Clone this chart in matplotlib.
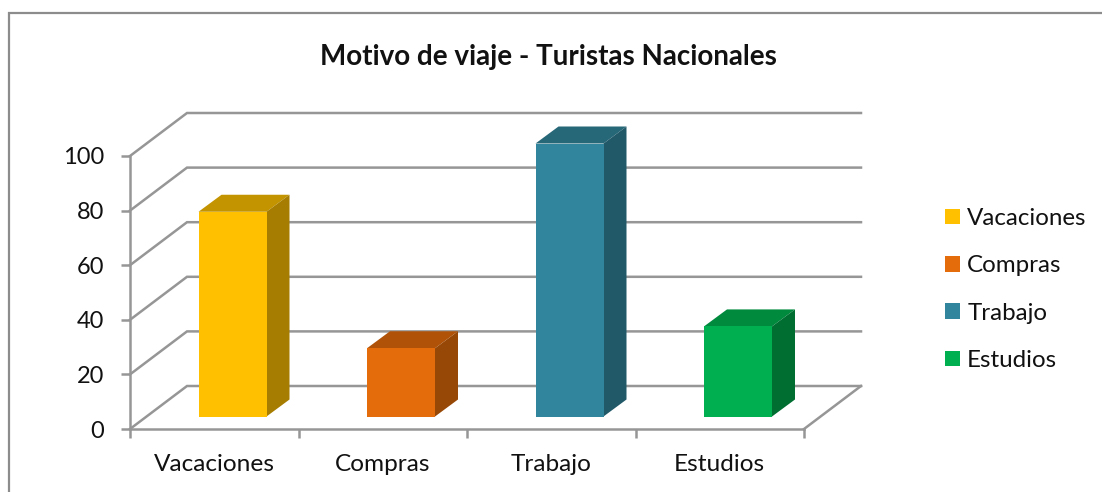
import matplotlib
matplotlib.use('Agg')
import matplotlib.pyplot as plt
from matplotlib.patches import Polygon, Patch, Rectangle

plt.rcParams['font.family'] = ['Lato', 'DejaVu Sans']

categories = ['Vacaciones', 'Compras', 'Trabajo', 'Estudios']
values = [75, 25, 100, 33]
yticks = [0, 20, 40, 60, 80, 100]
front_colors = ['#FFC000', '#E46C0A', '#31859C', '#00B050']
top_colors = ['#C49400', '#B05308', '#266778', '#008A3E']
side_colors = ['#A67D00', '#974706', '#215968', '#006E31']

W, H = 1102, 492
GREY = '#969696'
TEXT = '#111111'

fig = plt.figure(figsize=(W/100, H/100), dpi=100)

# outer frame, only left and top are in the picture
fig.add_artist(plt.Line2D([9/W, 9/W, 1], [0, 1-13/H, 1-13/H], color='#8c8c8c', lw=1.6,
                          solid_joinstyle='miter', transform=fig.transFigure))

# axes = front edge of the floor, in pixels
x0, x1, y0, y100 = 130, 804, 429, 156
ax = fig.add_axes([x0/W, 1-y0/H, (x1-x0)/W, (y0-y100)/H])
ax.set_xlim(0, 4)
ax.set_ylim(0, 100)
ax.patch.set_alpha(0)

# pixels to data units
px = 4/(x1-x0)
py = 100/(y0-y100)
dx, dy = 57*px, 43*py

for s in ['top', 'right']:
    ax.spines[s].set_visible(False)
for s in ['left', 'bottom']:
    ax.spines[s].set_color(GREY)
    ax.spines[s].set_linewidth(1.8)

ax.set_xticks(range(5))
ax.set_xticklabels([])
ax.set_yticks(yticks)
ax.tick_params(axis='both', length=6.5, width=1.8, color=GREY, labelsize=17, labelcolor=TEXT, pad=12)
for i, c in enumerate(categories):
    ax.text(i+0.5, -0.09, c, transform=ax.get_xaxis_transform(), ha='center', va='top', fontsize=17.6, color=TEXT)

# gridlines on side and back wall
for v in yticks:
    ax.plot([0, dx, 4+dx], [v, v+dy, v+dy], color=GREY, lw=1.8, clip_on=False, zorder=1,
            solid_joinstyle='miter')
ax.plot([4, 4+dx], [0, dy], color=GREY, lw=1.8, clip_on=False, zorder=1)

# bars stand about 12px above the front edge
bar_w = 68*px
ddx, ddy = 23*px, 17*py
b = 12.5*py
for i, v in enumerate(values):
    l = i + 68.5*px
    r = l + bar_w
    t = b + v
    ax.add_patch(Polygon([(l, t), (r, t), (r+ddx, t+ddy), (l+ddx, t+ddy)], fc=top_colors[i], ec='none', clip_on=False, zorder=3))
    ax.add_patch(Polygon([(r, b), (r+ddx, b+ddy), (r+ddx, t+ddy), (r, t)], fc=side_colors[i], ec='none', clip_on=False, zorder=3))
    ax.add_patch(Rectangle((l, b), bar_w, v, fc=front_colors[i], ec='none', clip_on=False, zorder=4))

fig.text(548/W, 1-57.5/H, 'Motivo de viaje - Turistas Nacionales', ha='center', va='center',
         fontsize=20, fontweight='bold', color=TEXT)

handles = [Patch(fc=c, ec='none') for c in front_colors]
fig.legend(handles, categories, loc='center left', bbox_to_anchor=(945/W, 1-289.5/H), frameon=False,
           fontsize=17.4, labelcolor=TEXT, handlelength=0.62, handleheight=0.62, handletextpad=0.3,
           labelspacing=1.09, borderpad=0, borderaxespad=0)

fig.savefig('out.png', dpi=100)
